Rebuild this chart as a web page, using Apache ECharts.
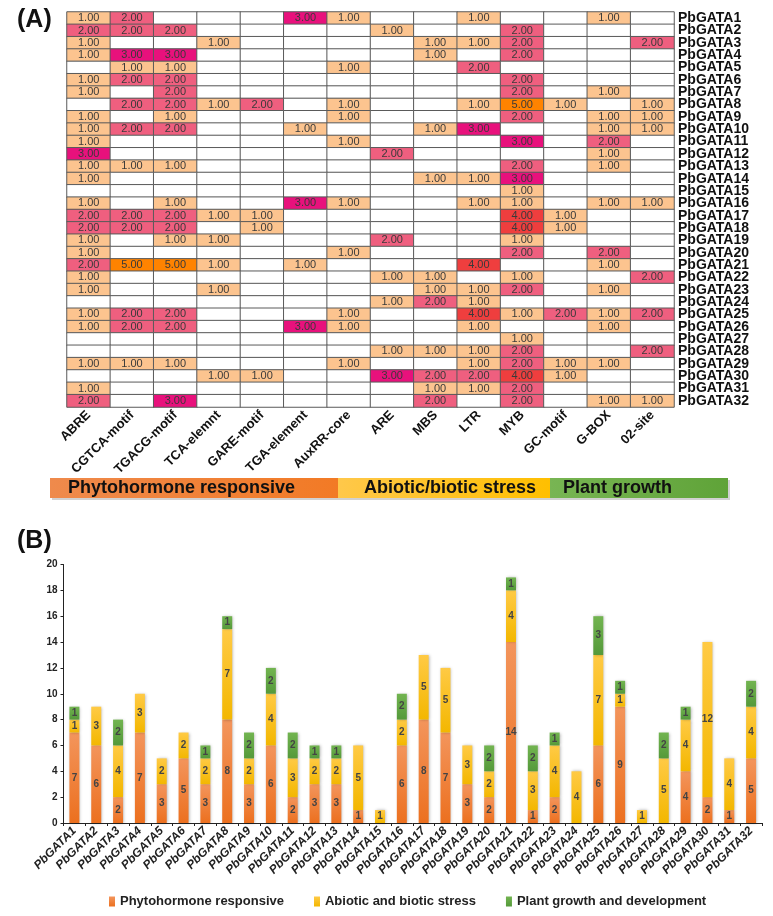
<!DOCTYPE html>
<html><head><meta charset="utf-8">
<script src="https://cdn.jsdelivr.net/npm/echarts@6/dist/echarts.min.js"></script>
<style>html,body{margin:0;padding:0;background:#fff}#c{width:773px;height:916px}</style>
</head><body><div id="c"></div><script>
const elements = ['ABRE','CGTCA-motif','TGACG-motif','TCA-elemnt','GARE-motif','TGA-element','AuxRR-core','ARE','MBS','LTR','MYB','GC-motif','G-BOX','02-site'];
const genes = ['PbGATA1','PbGATA2','PbGATA3','PbGATA4','PbGATA5','PbGATA6','PbGATA7','PbGATA8','PbGATA9','PbGATA10','PbGATA11','PbGATA12','PbGATA13','PbGATA14','PbGATA15','PbGATA16','PbGATA17','PbGATA18','PbGATA19','PbGATA20','PbGATA21','PbGATA22','PbGATA23','PbGATA24','PbGATA25','PbGATA26','PbGATA27','PbGATA28','PbGATA29','PbGATA30','PbGATA31','PbGATA32'];
// element counts per gene (row order = genes, column order = elements)
const counts = [
 [1,2,0,0,0,3,1,0,0,1,0,0,1,0],
 [2,2,2,0,0,0,0,1,0,0,2,0,0,0],
 [1,0,0,1,0,0,0,0,1,1,2,0,0,2],
 [1,3,3,0,0,0,0,0,1,0,2,0,0,0],
 [0,1,1,0,0,0,1,0,0,2,0,0,0,0],
 [1,2,2,0,0,0,0,0,0,0,2,0,0,0],
 [1,0,2,0,0,0,0,0,0,0,2,0,1,0],
 [0,2,2,1,2,0,1,0,0,1,5,1,0,1],
 [1,0,1,0,0,0,1,0,0,0,2,0,1,1],
 [1,2,2,0,0,1,0,0,1,3,0,0,1,1],
 [1,0,0,0,0,0,1,0,0,0,3,0,2,0],
 [3,0,0,0,0,0,0,2,0,0,0,0,1,0],
 [1,1,1,0,0,0,0,0,0,0,2,0,1,0],
 [1,0,0,0,0,0,0,0,1,1,3,0,0,0],
 [0,0,0,0,0,0,0,0,0,0,1,0,0,0],
 [1,0,1,0,0,3,1,0,0,1,1,0,1,1],
 [2,2,2,1,1,0,0,0,0,0,4,1,0,0],
 [2,2,2,0,1,0,0,0,0,0,4,1,0,0],
 [1,0,1,1,0,0,0,2,0,0,1,0,0,0],
 [1,0,0,0,0,0,1,0,0,0,2,0,2,0],
 [2,5,5,1,0,1,0,0,0,4,0,0,1,0],
 [1,0,0,0,0,0,0,1,1,0,1,0,0,2],
 [1,0,0,1,0,0,0,0,1,1,2,0,1,0],
 [0,0,0,0,0,0,0,1,2,1,0,0,0,0],
 [1,2,2,0,0,0,1,0,0,4,1,2,1,2],
 [1,2,2,0,0,3,1,0,0,1,0,0,1,0],
 [0,0,0,0,0,0,0,0,0,0,1,0,0,0],
 [0,0,0,0,0,0,0,1,1,1,2,0,0,2],
 [1,1,1,0,0,0,1,0,0,1,2,1,1,0],
 [0,0,0,1,1,0,0,3,2,2,4,1,0,0],
 [1,0,0,0,0,0,0,0,1,1,2,0,0,0],
 [2,0,3,0,0,0,0,0,2,0,2,0,1,1]
];
const groupNames = ['Phytohormone responsive','Abiotic/biotic stress','Plant growth'];
const seriesNames = ['Phytohormone responsive','Abiotic and biotic stress','Plant growth and development'];
const phyto   = [7,6,2,7,3,5,3,8,3,6,2,3,3,1,0,6,8,7,3,2,14,1,2,0,6,9,0,0,4,2,1,5];
const abiotic = [1,3,4,3,2,2,2,7,2,4,3,2,2,5,1,2,5,5,3,2,4,3,4,4,7,1,1,5,4,12,4,4];
const growth  = [1,0,2,0,0,0,1,1,2,2,2,1,1,0,0,2,0,0,0,2,1,2,1,0,3,1,0,2,1,0,0,2];
const yTicks = {min:0, max:20, interval:2};

const heatData = [];
counts.forEach((row, r) => row.forEach((v, c) => heatData.push([c, r, v])));

const grad = (a, b) => ({type:'linear', x:0, y:0, x2:0, y2:1, colorStops:[{offset:0, color:a},{offset:1, color:b}]});
const hgrad = (a, b) => ({type:'linear', x:0, y:0, x2:1, y2:0, colorStops:[{offset:0, color:a},{offset:1, color:b}]});
const FONT = '"Liberation Sans", Arial, sans-serif';

const chart = echarts.init(document.getElementById('c'), null, {renderer:'canvas'});
const barLabel = {show:true, position:'inside', fontSize:10, fontWeight:'bold', color:'#444', formatter: p => p.value ? p.value : ''};
const barShadow = {shadowBlur:3, shadowColor:'rgba(0,0,0,0.3)', shadowOffsetX:1, shadowOffsetY:0};

chart.setOption({
  animation:false,
  backgroundColor:'#fff',
  textStyle:{fontFamily:FONT},
  grid:[
    {left:67, top:12, width:607, height:395},
    {left:63.5, top:564.5, width:698.5, height:258.5}
  ],
  xAxis:[
    {gridIndex:0, type:'category', data:elements, axisLine:{show:false}, axisTick:{show:false}, splitLine:{show:false},
     axisLabel:{rotate:45, interval:0, margin:6, fontSize:13, fontWeight:'bold', color:'#111', fontFamily:FONT}},
    {gridIndex:1, type:'category', data:genes, axisLine:{lineStyle:{color:'#222', width:1}}, axisTick:{show:true, length:3, lineStyle:{color:'#222'}},
     axisLabel:{rotate:45, interval:0, margin:6, fontSize:12, fontWeight:'bold', fontStyle:'italic', color:'#222', fontFamily:FONT}}
  ],
  yAxis:[
    {gridIndex:0, type:'category', data:genes, inverse:true, position:'right', axisLine:{show:false}, axisTick:{show:false},
     axisLabel:{interval:0, margin:4, fontSize:14, fontWeight:'bold', color:'#111', fontFamily:FONT}},
    {gridIndex:1, type:'value', min:yTicks.min, max:yTicks.max, interval:yTicks.interval, splitLine:{show:false},
     axisLine:{show:true, lineStyle:{color:'#222', width:1}}, axisTick:{show:true, length:3, lineStyle:{color:'#222'}},
     axisLabel:{margin:6, fontSize:10, fontWeight:'bold', color:'#222', fontFamily:FONT}}
  ],
  visualMap:{type:'piecewise', show:false, seriesIndex:0, dimension:2,
    pieces:[{value:0, color:'#ffffff'},{value:1, color:'#FCC48F'},{value:2, color:'#EF5F7F'},{value:3, color:'#E8117C'},{value:4, color:'#EF3E3E'},{value:5, color:'#FF8300'}]},
  legend:{data:seriesNames, left:104, top:890, itemWidth:6, itemHeight:10, itemGap:30, icon:'rect',
    textStyle:{fontSize:13, fontWeight:'bold', color:'#222', fontFamily:FONT}},
  graphic:[
    {type:'text', left:17, top:8, style:{text:'(A)', font:'bold 25px "Liberation Sans", Arial', fill:'#111'}},
    {type:'text', left:17, top:529, style:{text:'(B)', font:'bold 25px "Liberation Sans", Arial', fill:'#111'}},
    {type:'rect', shape:{x:52, y:480, width:678, height:20}, style:{fill:'rgba(0,0,0,0.18)'}, z:1},
    {type:'rect', shape:{x:50, y:478, width:288, height:20}, style:{fill:hgrad('#EF8A4C','#F27A25')}, z:2},
    {type:'rect', shape:{x:338, y:478, width:212, height:20}, style:{fill:hgrad('#FFC84A','#FFBF00')}, z:2},
    {type:'rect', shape:{x:550, y:478, width:178, height:20}, style:{fill:hgrad('#78B553','#5FA338')}, z:2},
    {type:'text', x:68, y:488, z:3, style:{text:groupNames[0], font:'bold 18px "Liberation Sans", Arial', fill:'#111', verticalAlign:'middle'}},
    {type:'text', x:364, y:488, z:3, style:{text:groupNames[1], font:'bold 18px "Liberation Sans", Arial', fill:'#111', verticalAlign:'middle'}},
    {type:'text', x:563, y:488, z:3, style:{text:groupNames[2], font:'bold 18px "Liberation Sans", Arial', fill:'#111', verticalAlign:'middle'}}
  ],
  series:[
    {type:'heatmap', xAxisIndex:0, yAxisIndex:0, data:heatData,
     itemStyle:{borderColor:'#5a5a5a', borderWidth:1},
     label:{show:true, fontSize:11, color:'#3a3a3a', fontFamily:FONT, formatter: p => p.value[2] ? p.value[2].toFixed(2) : ''},
     emphasis:{disabled:true}},
    {type:'bar', name:seriesNames[0], xAxisIndex:1, yAxisIndex:1, stack:'t', barWidth:10, data:phyto,
     itemStyle:Object.assign({color:grad('#F3955C','#EC701F')}, barShadow), label:barLabel},
    {type:'bar', name:seriesNames[1], xAxisIndex:1, yAxisIndex:1, stack:'t', barWidth:10, data:abiotic,
     itemStyle:Object.assign({color:grad('#FFCA45','#F3B700')}, barShadow), label:barLabel},
    {type:'bar', name:seriesNames[2], xAxisIndex:1, yAxisIndex:1, stack:'t', barWidth:10, data:growth,
     itemStyle:Object.assign({color:grad('#72B450','#54993A')}, barShadow), label:barLabel}
  ]
});
</script></body></html>
